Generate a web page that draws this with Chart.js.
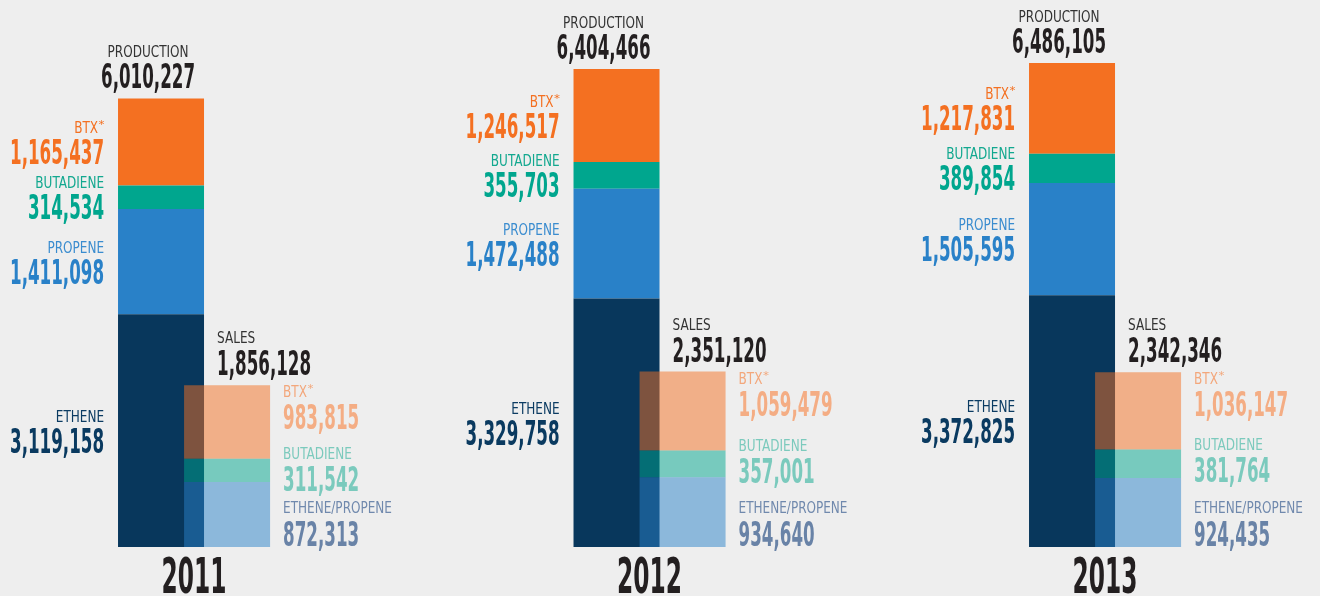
<!DOCTYPE html>
<html>
<head>
<meta charset="utf-8">
<script src="https://cdn.jsdelivr.net/npm/chart.js@4.4.1/dist/chart.umd.min.js"></script>
<style>
  html, body { margin: 0; padding: 0; background: #eeeeee; }
  #wrap { width: 1320px; height: 596px; }
</style>
</head>
<body>
<div id="wrap"><canvas id="chart" width="1320" height="596"></canvas></div>
<script>
const years = ['2011', '2012', '2013']

// production (tonnes)
const prodEthene    = [3119158, 3329758, 3372825]
const prodPropene   = [1411098, 1472488, 1505595]
const prodButadiene = [314534, 355703, 389854]
const prodBtx       = [1165437, 1246517, 1217831]
const prodTotal     = [6010227, 6404466, 6486105]

// sales (tonnes)
const salesEthPro    = [872313, 934640, 924435]
const salesButadiene = [311542, 357001, 381764]
const salesBtx       = [983815, 1059479, 1036147]
const salesTotal     = [1856128, 2351120, 2342346]

const SALES_SHIFT = 0.145
const FONT = "'Liberation Sans Narrow', 'DejaVu Sans Condensed', 'Liberation Sans', sans-serif"

const ORANGE = '#f47021'
const TEAL = '#00a68e'
const BLUE = '#2981c8'
const NAVY = '#08375c'

function points(values, shift) {
  return values.map((v, i) => ({ x: i + shift, y: v }))
}

function fade(hex) {
  const n = parseInt(hex.slice(1), 16)
  return `rgba(${n >> 16}, ${(n >> 8) & 255}, ${n & 255}, 0.5)`
}

const datasets = [
  { label: 'Ethene', data: points(prodEthene, 0), backgroundColor: NAVY, stack: 'prod', order: 1 },
  { label: 'Propene', data: points(prodPropene, 0), backgroundColor: BLUE, stack: 'prod', order: 1 },
  { label: 'Butadiene', data: points(prodButadiene, 0), backgroundColor: TEAL, stack: 'prod', order: 1 },
  { label: 'BTX', data: points(prodBtx, 0), backgroundColor: ORANGE, stack: 'prod', order: 1 },
  { label: 'Ethene/Propene sales', data: points(salesEthPro, SALES_SHIFT), backgroundColor: fade(BLUE), stack: 'sales', order: 0 },
  { label: 'Butadiene sales', data: points(salesButadiene, SALES_SHIFT), backgroundColor: fade(TEAL), stack: 'sales', order: 0 },
  { label: 'BTX sales', data: points(salesBtx, SALES_SHIFT), backgroundColor: fade(ORANGE), stack: 'sales', order: 0 }
]

const fmt = v => v.toLocaleString('en-US')

// text styles, each squeezed horizontally to mimic a condensed face
const textStyles = {
  label: { size: 16, weight: 'normal', ref: 'PRODUCTION', refWidth: 81 },
  num: { size: 33, weight: 'bold', ref: '6,010,227', refWidth: 94 },
  year: { size: 49, weight: 'bold', ref: '2013', refWidth: 65 },
  star: { size: 11, weight: 'normal', ref: '*', refWidth: 6 }
}

function styleFor(ctx, name) {
  const s = textStyles[name]
  ctx.font = `${s.weight} ${s.size}px ${FONT}`
  if (!s.sx) s.sx = s.refWidth / ctx.measureText(s.ref).width
  return s
}

function textWidth(ctx, str, name) {
  ctx.save()
  const s = styleFor(ctx, name)
  const w = ctx.measureText(str).width * s.sx
  ctx.restore()
  return w
}

function drawText(ctx, str, x, y, name, color, align) {
  ctx.save()
  const s = styleFor(ctx, name)
  const w = ctx.measureText(str).width * s.sx
  const left = align === 'right' ? x - w : align === 'center' ? x - w / 2 : x
  ctx.fillStyle = color
  ctx.textAlign = 'left'
  ctx.textBaseline = 'alphabetic'
  ctx.translate(left, y)
  ctx.scale(s.sx, 1)
  ctx.fillText(str, 0, 0)
  ctx.restore()
}

function drawBtx(ctx, x, y, color, align) {
  const w1 = textWidth(ctx, 'BTX', 'label')
  const w2 = textWidth(ctx, '*', 'star')
  const left = align === 'right' ? x - w1 - w2 : x
  drawText(ctx, 'BTX', left, y, 'label', color, 'left')
  drawText(ctx, '*', left + w1 + 0.5, y - 5, 'star', color, 'left')
}

const labelPlugin = {
  id: 'labels',
  afterDatasetsDraw(chart) {
    const ctx = chart.ctx
    const bar = (ds, i) => chart.getDatasetMeta(ds).data[i].getProps(['x', 'y', 'base', 'width'], true)

    years.forEach((year, i) => {
      const eth = bar(0, i), pro = bar(1, i), but = bar(2, i), btx = bar(3, i)
      const sEp = bar(4, i), sBut = bar(5, i), sBtx = bar(6, i)
      const leftX = eth.x - eth.width / 2 - 14

      // production title
      drawText(ctx, 'PRODUCTION', eth.x - 13, btx.y - 41, 'label', '#333333', 'center')
      drawText(ctx, fmt(prodTotal[i]), eth.x - 13, btx.y - 10, 'num', '#231f20', 'center')

      // production components, centred on their segment
      const left = [
        [btx, null, prodBtx[i], ORANGE, ORANGE],
        [but, 'BUTADIENE', prodButadiene[i], '#12a88f', TEAL],
        [pro, 'PROPENE', prodPropene[i], '#3a8ccf', BLUE],
        [eth, 'ETHENE', prodEthene[i], '#0b3b62', '#0a3a60']
      ]
      left.forEach(([el, name, value, lc, nc]) => {
        const mid = (el.y + el.base) / 2
        if (name) drawText(ctx, name, leftX, mid - 9, 'label', lc, 'right')
        else drawBtx(ctx, leftX, mid - 9, lc, 'right')
        drawText(ctx, fmt(value), leftX, mid + 22, 'num', nc, 'right')
      })

      // sales title
      const salesLeft = sEp.x - sEp.width / 2 + 33
      drawText(ctx, 'SALES', salesLeft, sBtx.y - 42, 'label', '#333333', 'left')
      drawText(ctx, fmt(salesTotal[i]), salesLeft, sBtx.y - 10, 'num', '#231f20', 'left')

      // sales components
      const rightX = sEp.x + sEp.width / 2 + 13
      drawBtx(ctx, rightX, sBtx.y + 12, '#f3a77b', 'left')
      drawText(ctx, fmt(salesBtx[i]), rightX, sBtx.y + 44, 'num', '#f4ad84', 'left')
      drawText(ctx, 'BUTADIENE', rightX, sBut.y, 'label', '#7ccabd', 'left')
      drawText(ctx, fmt(salesButadiene[i]), rightX, sBut.y + 32, 'num', '#7bcabd', 'left')
      drawText(ctx, 'ETHENE/PROPENE', rightX, sEp.base - 34, 'label', '#7089ad', 'left')
      drawText(ctx, fmt(salesEthPro[i]), rightX, sEp.base - 1, 'num', '#6983a7', 'left')

      // year
      drawText(ctx, year, (eth.x + sEp.x) / 2, chart.chartArea.bottom + 46, 'year', '#231f20', 'center')
    })
  }
}

const bgPlugin = {
  id: 'bg',
  beforeDraw(chart) {
    const ctx = chart.ctx
    ctx.save()
    ctx.fillStyle = '#eeeeee'
    ctx.fillRect(0, 0, chart.width, chart.height)
    ctx.restore()
  }
}

new Chart(document.getElementById('chart'), {
  type: 'bar',
  data: { datasets },
  options: {
    responsive: false,
    animation: false,
    grouped: false,
    barPercentage: 2,
    categoryPercentage: 1,
    maxBarThickness: 86,
    borderWidth: 0,
    inflateAmount: 0,
    layout: { padding: { top: 0, bottom: 49, left: 0, right: 0 } },
    scales: {
      x: { type: 'linear', offset: false, min: -0.3535, max: 2.5444, display: false },
      y: { stacked: true, min: 0, max: 7330000, display: false }
    },
    plugins: {
      legend: { display: false },
      tooltip: { enabled: false }
    }
  },
  plugins: [bgPlugin, labelPlugin]
})
</script>
</body>
</html>
